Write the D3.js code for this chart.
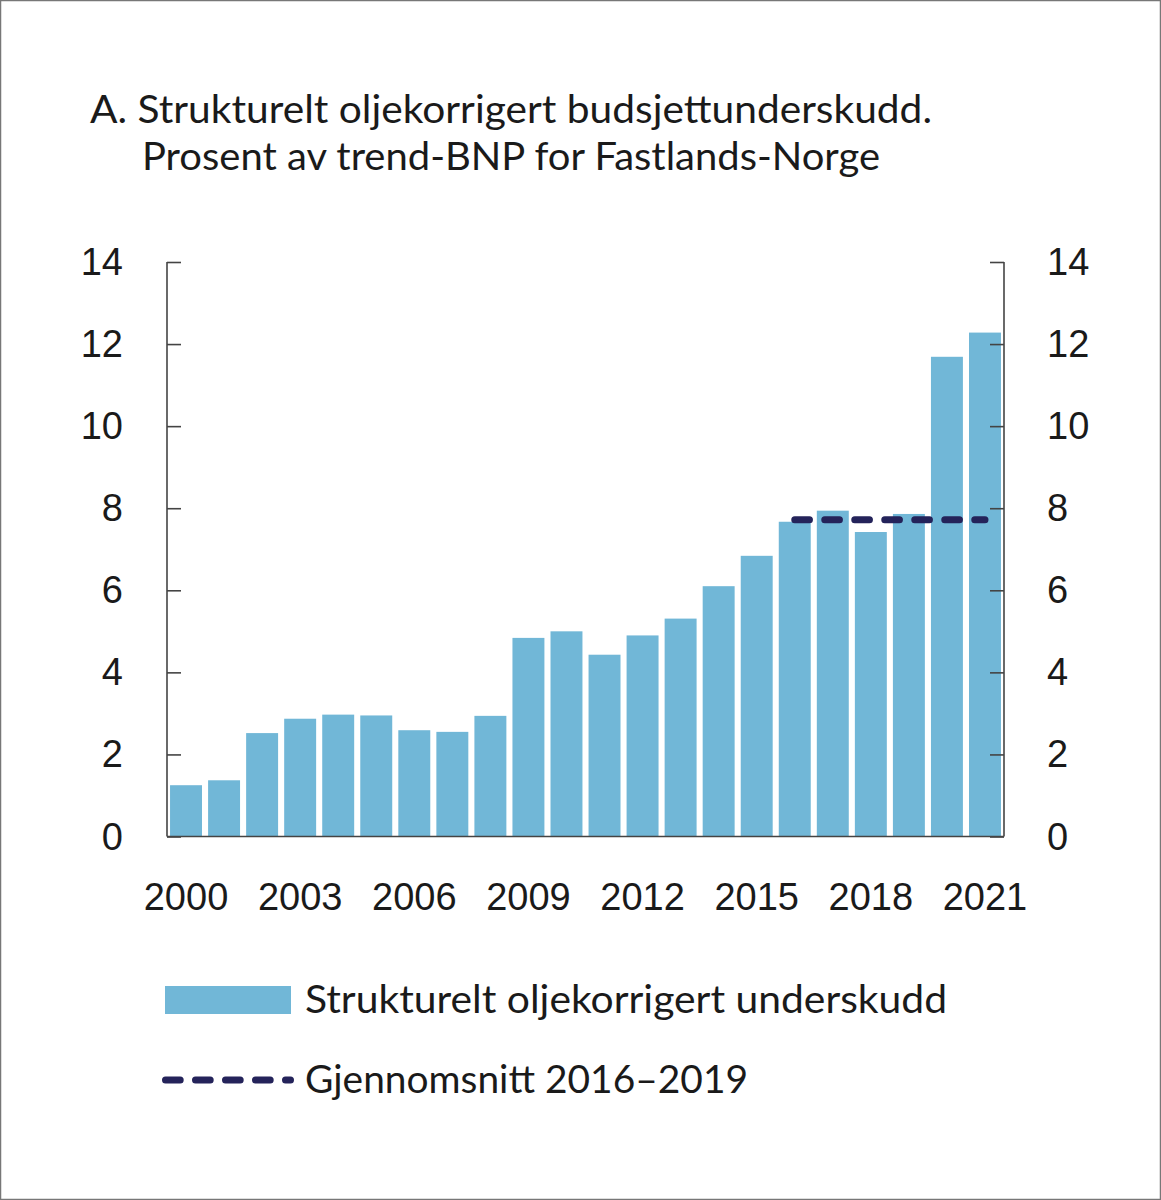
<!DOCTYPE html>
<html>
<head>
<meta charset="utf-8">
<script src="https://cdn.jsdelivr.net/npm/d3@7"></script>
<style>
  html, body { margin: 0; padding: 0; background: #fff; }
  svg { display: block; }
</style>
</head>
<body>
<svg id="chart" width="1161" height="1200"></svg>
<script>
// ---- Data ----
const years = [2000,2001,2002,2003,2004,2005,2006,2007,2008,2009,2010,2011,2012,2013,2014,2015,2016,2017,2018,2019,2020,2021];
const deficit = [1.25,1.37,2.52,2.87,2.97,2.95,2.59,2.55,2.94,4.84,5.0,4.43,4.9,5.31,6.1,6.84,7.67,7.94,7.42,7.86,11.69,12.28];
const avgYears = [2016,2017,2018,2019,2020,2021];
const avgValues = [7.72,7.72,7.72,7.72,7.72,7.72];
const yTicks = [0,2,4,6,8,10,12,14];
const xTickLabels = [2000,2003,2006,2009,2012,2015,2018,2021];
const titleLines = ["A. Strukturelt oljekorrigert budsjettunderskudd.", "Prosent av trend-BNP for Fastlands-Norge"];
const legendLabels = ["Strukturelt oljekorrigert underskudd", "Gjennomsnitt 2016–2019"];

(function () {
// ---- Layout ----
const svg = d3.select("#chart");
const W = 1161, H = 1200;
const pL = 167, pR = 1004, pT = 262, pB = 836.5;
const barColor = "#71b7d7";
const lineColor = "#24235a";
const axisColor = "#444";
const textColor = "#1a1a1a";
const titleFont = "Lato, 'Open Sans', sans-serif";
const numFont = "'Liberation Sans', Arial, sans-serif";

// border
svg.append("rect").attr("x",0.5).attr("y",0.5).attr("width",W-1).attr("height",H-1)
  .attr("fill","#fff").attr("stroke","#777").attr("stroke-width",1.5);

const x = d3.scaleBand().domain(years).range([pL, pR]).paddingInner(0.16).paddingOuter(0.08);
const y = d3.scaleLinear().domain([0,14]).range([pB, pT]);

// Title
const titleX = [90, 142], titleY = [123, 170], titleW = [842, 738];
titleLines.forEach((t,i) => {
  svg.append("text").attr("x", titleX[i]).attr("y", titleY[i])
    .attr("font-family", titleFont).attr("font-size", 38).attr("fill", textColor)
    .attr("textLength", titleW[i]).attr("lengthAdjust","spacingAndGlyphs")
    .text(t);
});

// Bars
svg.append("g").selectAll("rect").data(years).join("rect")
  .attr("x", d => x(d))
  .attr("width", x.bandwidth())
  .attr("y", (d,i) => y(deficit[i]))
  .attr("height", (d,i) => y(0) - y(deficit[i]))
  .attr("fill", barColor);

// Average dashed line
const line = d3.line().x(d => x(d) + x.bandwidth()/2).y((d,i) => y(avgValues[i]));
svg.append("path").datum(avgYears).attr("d", line)
  .attr("fill","none").attr("stroke", lineColor).attr("stroke-width", 7)
  .attr("stroke-linecap","round").attr("stroke-dasharray","14.7 15.3");

// Axes
const leftAxis = d3.axisRight(y).tickValues(yTicks).tickSize(14).tickFormat("");
const gL = svg.append("g").attr("transform", `translate(${pL},0)`).call(leftAxis);
const rightAxis = d3.axisLeft(y).tickValues(yTicks).tickSize(14).tickFormat("");
const gR = svg.append("g").attr("transform", `translate(${pR},0)`).call(rightAxis);
[gL, gR].forEach(g => {
  g.select(".domain").attr("d", `M0,${pT}V${pB}`).attr("stroke", axisColor).attr("stroke-width", 1.6);
  g.selectAll(".tick line").attr("stroke", axisColor).attr("stroke-width", 1.6);
});
// bottom axis
svg.append("line").attr("x1", pL).attr("x2", pR).attr("y1", pB).attr("y2", pB)
  .attr("stroke", axisColor).attr("stroke-width", 1.6);

// Y tick labels
svg.append("g").selectAll("text").data(yTicks).join("text")
  .attr("x", 123).attr("y", d => y(d) + 13)
  .attr("text-anchor","end").attr("font-family", numFont).attr("font-size", 38).attr("fill", textColor)
  .text(d => d);
svg.append("g").selectAll("text").data(yTicks).join("text")
  .attr("x", 1047).attr("y", d => y(d) + 13)
  .attr("text-anchor","start").attr("font-family", numFont).attr("font-size", 38).attr("fill", textColor)
  .text(d => d);

// X tick labels
svg.append("g").selectAll("text").data(xTickLabels).join("text")
  .attr("x", d => x(d) + x.bandwidth()/2).attr("y", 910)
  .attr("text-anchor","middle").attr("font-family", numFont).attr("font-size", 38).attr("fill", textColor)
  .text(d => d);

// Legend
svg.append("rect").attr("x", 165).attr("y", 986).attr("width", 126).attr("height", 28).attr("fill", barColor);
svg.append("line").attr("x1", 165.5).attr("x2", 290.5).attr("y1", 1080).attr("y2", 1080)
  .attr("stroke", lineColor).attr("stroke-width", 7).attr("stroke-linecap","round")
  .attr("stroke-dasharray","14.7 15.3");
const legY = [1013, 1093], legW = [642, 443];
legendLabels.forEach((t,i) => {
  svg.append("text").attr("x", 305).attr("y", legY[i])
    .attr("font-family", titleFont).attr("font-size", 38).attr("fill", textColor)
    .attr("textLength", legW[i]).attr("lengthAdjust","spacingAndGlyphs")
    .text(t);
});
})();
</script>
</body>
</html>
